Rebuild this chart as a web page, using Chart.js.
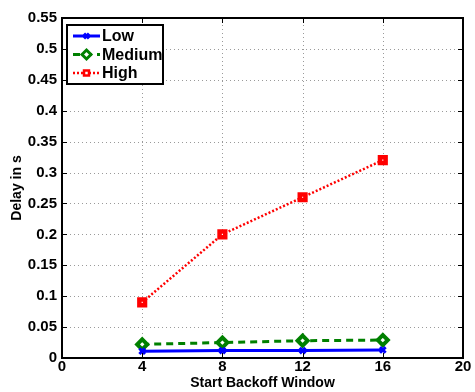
<!DOCTYPE html>
<html>
<head>
<meta charset="utf-8">
<script src="https://cdn.jsdelivr.net/npm/chart.js@4/dist/chart.umd.min.js"></script>
<style>
  html, body { margin: 0; padding: 0; background: #fff; }
  #wrap { width: 475px; height: 392px; }
</style>
</head>
<body>
<div id="wrap"><canvas id="delayChart" width="475" height="392"></canvas></div>
<script>
// start backoff window sizes
const windows = [4, 8, 12, 16];
// mean delay (s) per traffic load
const lowDelay = [0.011, 0.012, 0.012, 0.013];
const mediumDelay = [0.022, 0.025, 0.028, 0.029];
const highDelay = [0.09, 0.2, 0.26, 0.32];
const xTicks = [0, 4, 8, 12, 16, 20];

const FONT = 'Liberation Sans, Arial, sans-serif';

function points(values) {
    return windows.map((w, i) => ({ x: w, y: values[i] }));
}

// dotted grid under the data, box with inward ticks and legend on top
const boxPlugin = {
    id: 'boxAxes',
    beforeDatasetsDraw(chart) {
        const ctx = chart.ctx;
        const a = chart.chartArea;
        const xs = chart.scales.x, ys = chart.scales.y;
        ctx.save();
        ctx.strokeStyle = '#9a9a9a';
        ctx.lineWidth = 1;
        ctx.setLineDash([1, 3]);
        ctx.beginPath();
        xs.ticks.forEach(t => {
            const px = Math.round(xs.getPixelForValue(t.value)) + 0.5;
            ctx.moveTo(px, a.bottom); ctx.lineTo(px, a.top);
        });
        ys.ticks.forEach(t => {
            const py = Math.round(ys.getPixelForValue(t.value)) + 0.5;
            ctx.moveTo(a.left, py); ctx.lineTo(a.right, py);
        });
        ctx.stroke();
        ctx.restore();
    },
    afterDraw(chart) {
        const ctx = chart.ctx;
        const a = chart.chartArea;
        const xs = chart.scales.x, ys = chart.scales.y;
        const tl = 5;
        ctx.save();
        ctx.strokeStyle = '#000';
        ctx.lineWidth = 1;
        ctx.beginPath();
        xs.ticks.forEach(t => {
            const px = Math.round(xs.getPixelForValue(t.value)) + 0.5;
            ctx.moveTo(px, a.bottom); ctx.lineTo(px, a.bottom - tl);
            ctx.moveTo(px, a.top); ctx.lineTo(px, a.top + tl);
        });
        ys.ticks.forEach(t => {
            const py = Math.round(ys.getPixelForValue(t.value)) + 0.5;
            ctx.moveTo(a.left, py); ctx.lineTo(a.left + tl, py);
            ctx.moveTo(a.right, py); ctx.lineTo(a.right - tl, py);
        });
        ctx.stroke();
        ctx.lineWidth = 2;
        ctx.strokeRect(a.left, a.top, a.right - a.left, a.bottom - a.top);

        // legend
        const lx = 67, ly = 25, lw = 96, lh = 59;
        ctx.fillStyle = '#fff';
        ctx.fillRect(lx, ly, lw, lh);
        ctx.lineWidth = 2;
        ctx.strokeRect(lx, ly, lw, lh);
        ctx.font = 'bold 16px ' + FONT;
        ctx.textBaseline = 'middle';
        chart.data.datasets.forEach((ds, i) => {
            const y = ly + 11 + i * 18.5;
            ctx.strokeStyle = ds.borderColor;
            ctx.lineWidth = ds.borderWidth;
            ctx.setLineDash(ds.borderDash || []);
            ctx.beginPath();
            ctx.moveTo(lx + 6, y); ctx.lineTo(lx + 33, y);
            ctx.stroke();
            ctx.setLineDash([]);
            ctx.fillStyle = ds.pointBackgroundColor;
            ctx.strokeStyle = ds.pointBorderColor;
            Chart.helpers.drawPoint(ctx, {
                pointStyle: ds.pointStyle,
                radius: ds.pointRadius - 0.5,
                borderWidth: ds.pointBorderWidth
            }, lx + 19.5, y);
            ctx.fillStyle = '#000';
            ctx.fillText(ds.label, lx + 35, y + 1);
        });
        ctx.restore();
    }
};

new Chart(document.getElementById('delayChart'), {
    type: 'line',
    data: {
        datasets: [
            {
                label: 'Low',
                data: points(lowDelay),
                borderColor: '#0000ff',
                borderWidth: 3,
                pointStyle: 'crossRot',
                pointRadius: 4,
                pointBorderWidth: 3,
                pointBorderColor: '#0000ff',
                pointBackgroundColor: '#0000ff',
                backgroundColor: '#0000ff'
            },
            {
                label: 'Medium',
                data: points(mediumDelay),
                borderColor: '#008000',
                borderWidth: 3,
                borderDash: [7, 5],
                pointStyle: 'rectRot',
                pointRadius: 5,
                pointBorderWidth: 4,
                pointBorderColor: '#008000',
                pointBackgroundColor: '#fff',
                backgroundColor: '#fff'
            },
            {
                label: 'High',
                data: points(highDelay),
                borderColor: '#ff0000',
                borderWidth: 2.5,
                borderDash: [2, 2],
                pointStyle: 'rect',
                pointRadius: 4,
                pointBorderWidth: 4.5,
                pointBorderColor: '#ff0000',
                pointBackgroundColor: '#fff',
                backgroundColor: '#fff'
            }
        ]
    },
    options: {
        responsive: false,
        animation: false,
        layout: { padding: { top: 18, right: 12, left: 0, bottom: 0 } },
        plugins: {
            legend: { display: false },
            tooltip: { enabled: false }
        },
        scales: {
            x: {
                type: 'linear',
                min: 0,
                max: 20,
                afterFit: s => { s.height = 34; },
                afterBuildTicks: s => { s.ticks = xTicks.map(v => ({ value: v })); },
                ticks: {
                    color: '#000',
                    font: { family: FONT, size: 15, weight: 'bold' },
                    padding: 0,
                    maxRotation: 0
                },
                grid: { display: false, drawTicks: false },
                border: { display: false },
                title: {
                    display: true,
                    text: 'Start Backoff Window',
                    color: '#000',
                    font: { family: FONT, size: 14, weight: 'bold' },
                    padding: { top: 0, bottom: 0 }
                }
            },
            y: {
                min: 0,
                max: 0.55,
                afterFit: s => { s.width = 62; },
                ticks: {
                    stepSize: 0.05,
                    color: '#000',
                    font: { family: FONT, size: 15, weight: 'bold' },
                    padding: 5,
                    callback: v => String(+v.toFixed(2))
                },
                grid: { display: false, drawTicks: false },
                border: { display: false },
                title: {
                    display: true,
                    text: 'Delay in s',
                    color: '#000',
                    font: { family: FONT, size: 14, weight: 'bold' },
                    padding: { top: 9, bottom: 0 }
                }
            }
        }
    },
    plugins: [boxPlugin]
});
</script>
</body>
</html>
